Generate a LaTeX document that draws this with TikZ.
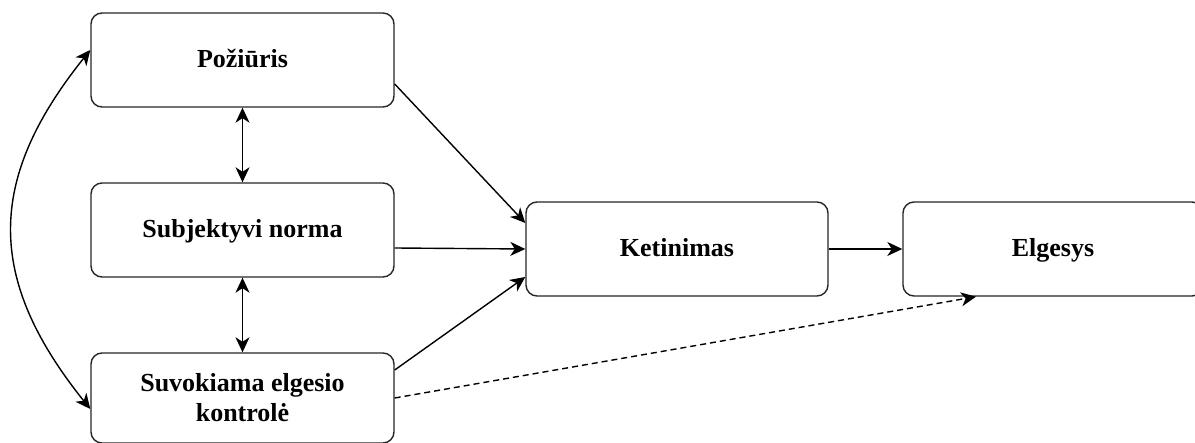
\documentclass[tikz,border=0pt]{standalone}
\usepackage{fontspec}
\setmainfont{Liberation Serif}
\usetikzlibrary{arrows.meta}
\begin{document}
\begin{tikzpicture}[x=1pt,y=-1pt,
  box/.style={draw=black!85, line width=1.4pt, rounded corners=11pt, fill=white,
    minimum height=94pt, align=center, inner sep=0pt,
    font=\fontsize{26}{30}\selectfont\bfseries},
  oneline/.style={text height=17pt, text depth=1pt},
  tip/.tip={Stealth[length=15pt,width=14pt,inset=4.5pt]},
  conn/.style={line width=1.4pt, -tip},
  both/.style={line width=1.4pt, tip-tip}
]
\useasboundingbox (0,0) rectangle (1195,443);
\clip (0,0) rectangle (1195,443);

% boxes
\node[box, oneline, minimum width=303pt] (poz) at (242.5,60) {Požiūris};
\node[box, oneline, minimum width=303pt] (subj) at (242.5,230) {Subjektyvi norma};
\node[box, minimum width=303pt, minimum height=90pt] (suv) at (242.5,398) {Suvokiama elgesio\\kontrolė};
\node[box, oneline, minimum width=302pt] (ket) at (677,249) {Ketinimas};
\node[box, oneline, minimum width=300pt] (elg) at (1053,249) {Elgesys};

% mutual links between the three predictors
\draw[both] (poz.south) -- (subj.north);
\draw[both] (subj.south) -- (suv.north);
\draw[both] ([yshift=-11pt]suv.west) .. controls (-14,279) and (-14,180) .. ([yshift=10pt]poz.west);

% paths to intention and behaviour
\draw[conn] ([yshift=-24pt]poz.east) -- ([yshift=26pt]ket.west);
\draw[conn] ([yshift=-18pt]subj.east) -- (ket.west);
\draw[conn] ([yshift=28pt]suv.east) -- ([yshift=-28pt]ket.west);
\draw[conn] (ket.east) -- (elg.west);
\draw[conn, dashed, dash pattern=on 6pt off 4pt] (suv.east) -- ([xshift=-77pt]elg.south);
\end{tikzpicture}
\end{document}
